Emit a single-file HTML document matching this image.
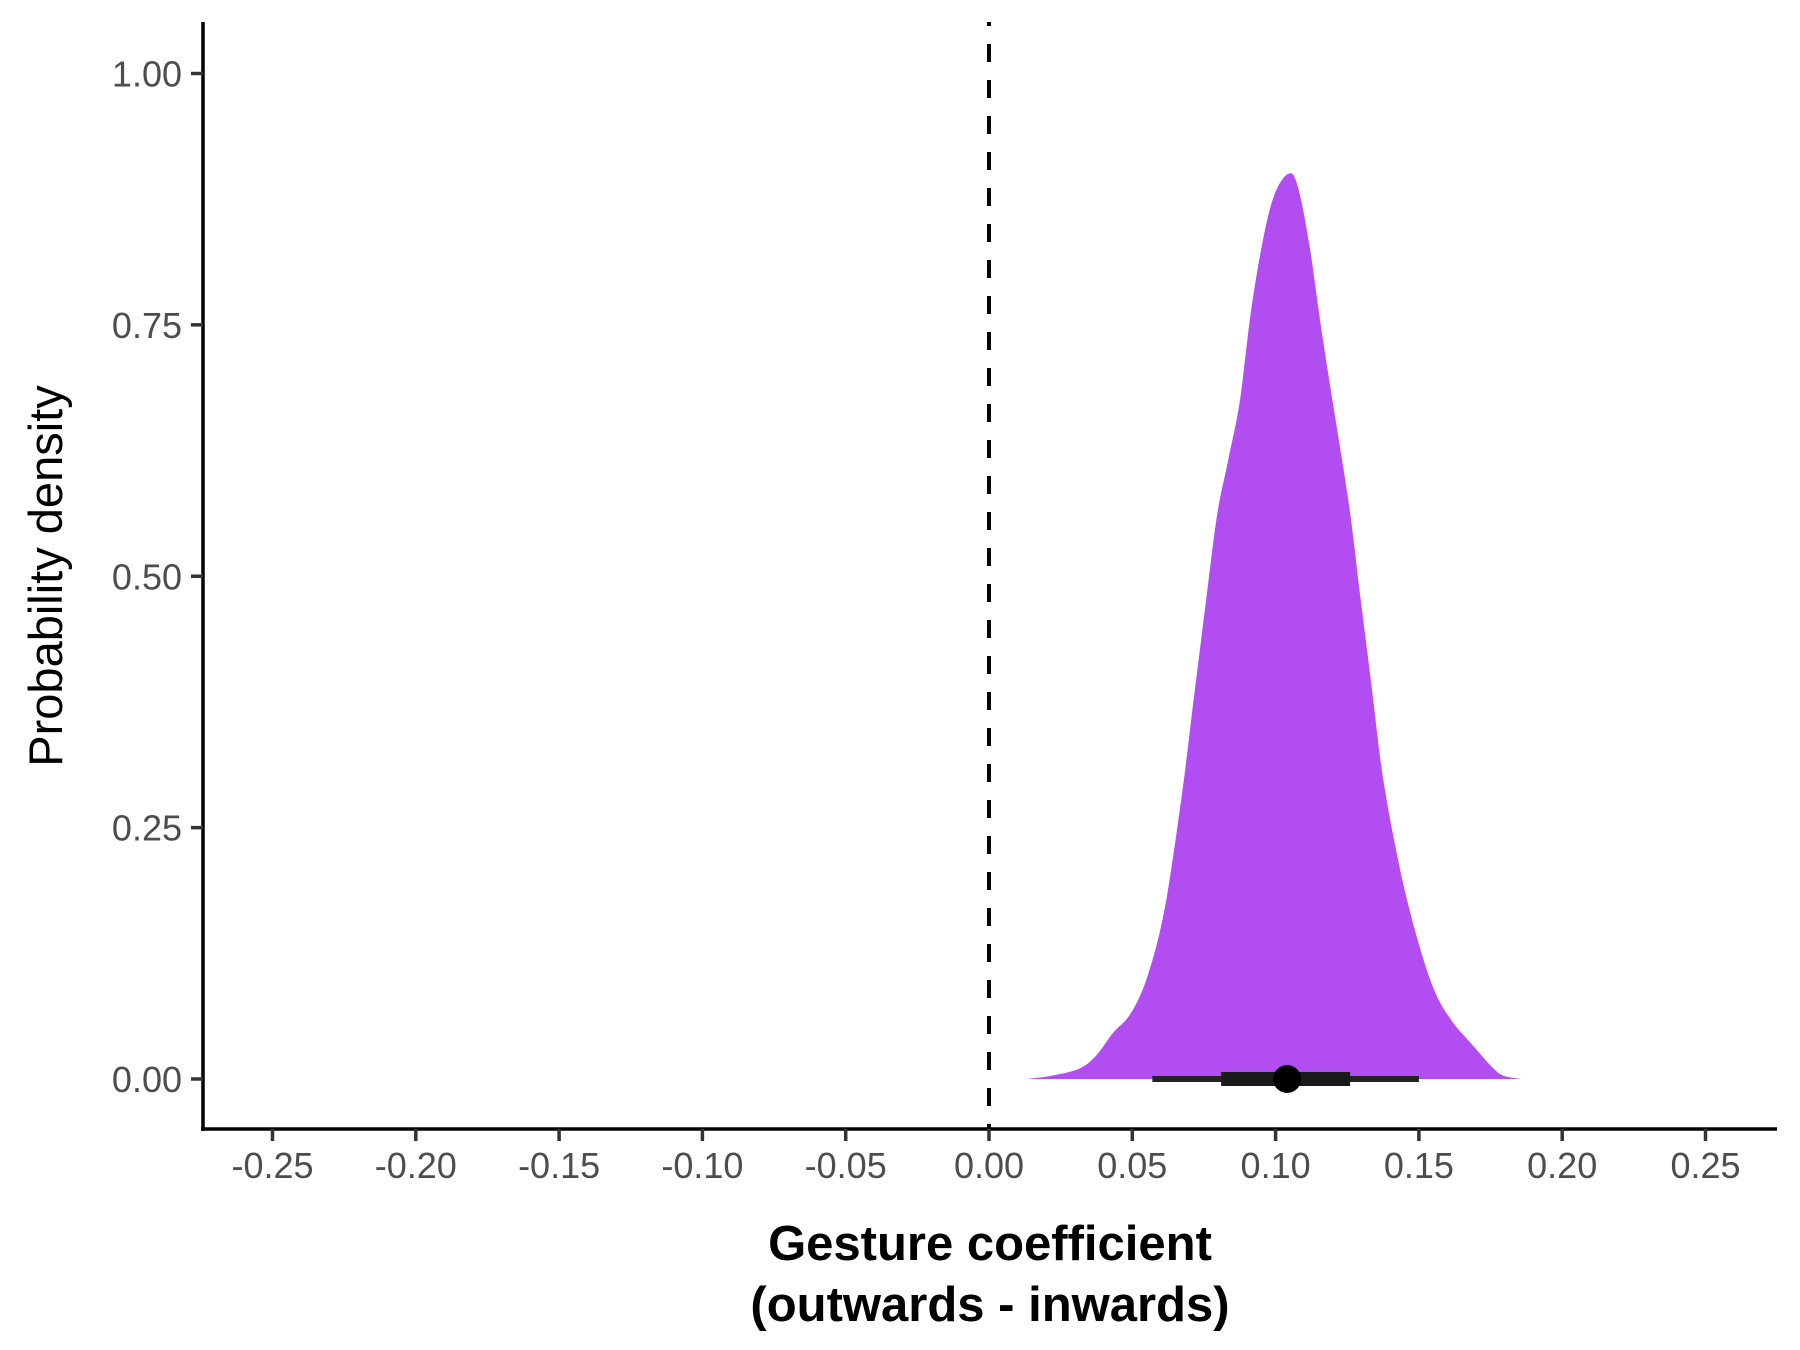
<!DOCTYPE html>
<html><head><meta charset="utf-8"><style>
html,body{margin:0;padding:0;background:#fff;}
svg{display:block;}
text{font-family:"Liberation Sans",Arial,sans-serif;}
</style></head><body>
<svg id="chart" width="1800" height="1350" viewBox="0 0 1800 1350">
<g id="plot"></g>
<text x="990" y="1260" text-anchor="middle" font-size="49" font-weight="bold" fill="#000">Gesture coefficient</text>
<text x="990" y="1321" text-anchor="middle" font-size="49" font-weight="bold" fill="#000">(outwards - inwards)</text>
<text transform="translate(62,576) rotate(-90)" text-anchor="middle" font-size="47" fill="#000">Probability density</text>
</svg>
<script>
const densX = [0.0132,0.0213,0.0313,0.0373,0.0433,0.0494,0.0554,0.0614,0.0674,0.0714,0.0754,0.0795,0.0835,0.0875,0.0915,0.0955,0.0995,0.1043,0.1075,0.1116,0.1156,0.1196,0.1256,0.1296,0.1336,0.1376,0.1437,0.1497,0.1557,0.1617,0.1677,0.1758,0.1798,0.1858];
const densY = [0,0.003,0.010,0.023,0.046,0.065,0.103,0.171,0.285,0.377,0.468,0.559,0.616,0.674,0.765,0.833,0.879,0.900,0.890,0.833,0.753,0.679,0.571,0.479,0.388,0.297,0.205,0.137,0.086,0.057,0.037,0.011,0.003,0];
const xTicks = [-0.25,-0.20,-0.15,-0.10,-0.05,0.00,0.05,0.10,0.15,0.20,0.25];
const yTicks = [0.00,0.25,0.50,0.75,1.00];
const intervalOuter = [0.057,0.150];
const intervalInner = [0.081,0.126];
const pointEstimate = [0.104];
const refLine = [0];

const NS="http://www.w3.org/2000/svg";
const g=document.getElementById('plot');
const xs=v=>989+v*2866;
const ys=v=>1079-v*1005.5;
function mk(tag,attrs){const e=document.createElementNS(NS,tag);for(const k in attrs)e.setAttribute(k,attrs[k]);g.appendChild(e);return e;}

// density (Catmull-Rom smoothing)
const P=densX.map((x,i)=>[xs(x),ys(densY[i])]);
let d='M'+P[0][0].toFixed(1)+','+P[0][1].toFixed(1);
for(let i=0;i<P.length-1;i++){
  const p0=P[Math.max(0,i-1)],p1=P[i],p2=P[i+1],p3=P[Math.min(P.length-1,i+2)];
  const c1=[p1[0]+(p2[0]-p0[0])/6,p1[1]+(p2[1]-p0[1])/6];
  const c2=[p2[0]-(p3[0]-p1[0])/6,p2[1]-(p3[1]-p1[1])/6];
  d+=' C'+c1[0].toFixed(1)+','+c1[1].toFixed(1)+' '+c2[0].toFixed(1)+','+c2[1].toFixed(1)+' '+p2[0].toFixed(1)+','+p2[1].toFixed(1);
}
d+=' Z';
const area=mk('path',{d:d,fill:'#b24df2'});



// reference line
const rl=mk('line',{x1:xs(refLine[0]),x2:xs(refLine[0]),y1:22,y2:1129,stroke:'#000','stroke-width':4,'stroke-dasharray':'18,18','stroke-dashoffset':'14'});



// interval
const o=mk('line',{x1:xs(intervalOuter[0]),x2:xs(intervalOuter[1]),y1:ys(0),y2:ys(0),stroke:'#222','stroke-width':6});


const inn=mk('line',{x1:xs(intervalInner[0]),x2:xs(intervalInner[1]),y1:ys(0),y2:ys(0),stroke:'#1a1a1a','stroke-width':14});


const pt=mk('circle',{cx:xs(pointEstimate[0]),cy:ys(0),r:14,fill:'#000'});



// axes
const ya=mk('line',{x1:203,x2:203,y1:22,y2:1131,stroke:'#000','stroke-width':3.5});


const xa=mk('line',{x1:201,x2:1777,y1:1129,y2:1129,stroke:'#000','stroke-width':3.5});



xTicks.forEach(v=>{
  const t=mk('line',{x1:xs(v),x2:xs(v),y1:1129,y2:1141,stroke:'#333','stroke-width':3.5});
  
  
  const l=mk('text',{x:xs(v),y:1178,'text-anchor':'middle','font-size':36,fill:'#4d4d4d'});
  l.textContent=v.toFixed(2);
  
  
});
yTicks.forEach(v=>{
  const t=mk('line',{x1:191,x2:203,y1:ys(v),y2:ys(v),stroke:'#333','stroke-width':3.5});
  
  
  const l=mk('text',{x:182,y:ys(v)+13,'text-anchor':'end','font-size':36,fill:'#4d4d4d'});
  l.textContent=v.toFixed(2);
  
  
});
</script>
</body></html>
